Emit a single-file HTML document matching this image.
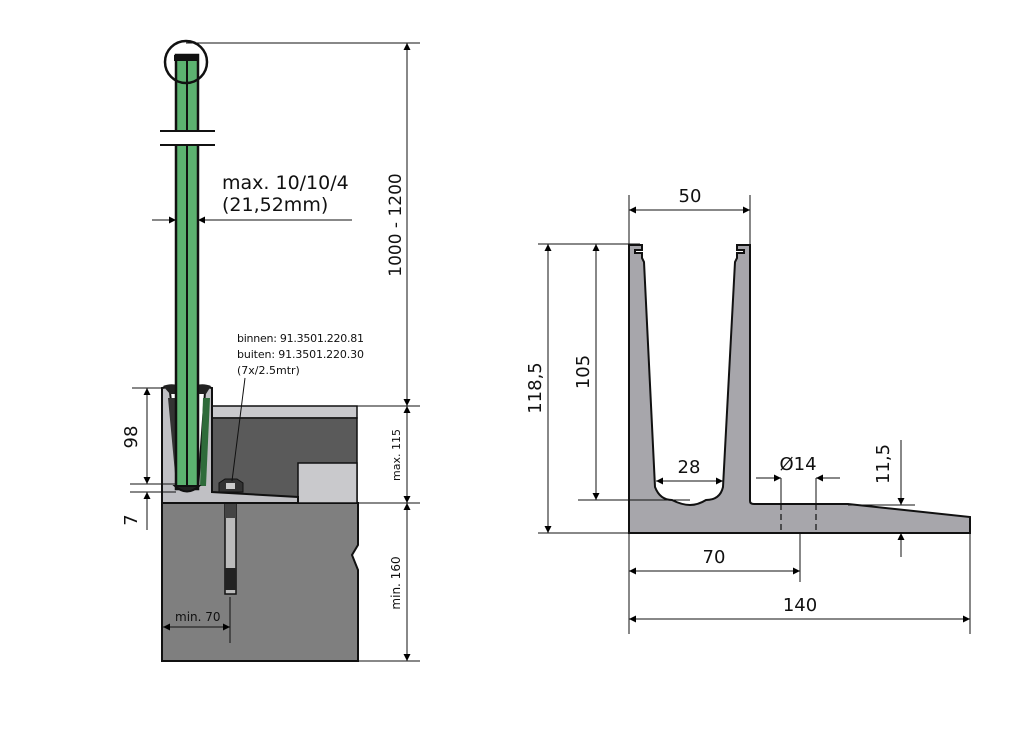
<!DOCTYPE html>
<html><head><meta charset="utf-8"><style>
html,body{margin:0;padding:0;background:#fff;}
svg{display:block;}
text{font-family:"DejaVu Sans","Liberation Sans",sans-serif;fill:#111;}
</style></head><body>
<svg width="1024" height="731" viewBox="0 0 1024 731" xmlns="http://www.w3.org/2000/svg">
<defs>
<marker id="a" viewBox="0 0 10 10" refX="10" refY="5" markerWidth="12" markerHeight="7" orient="auto-start-reverse" markerUnits="userSpaceOnUse"><path d="M0,0 L10,5 L0,10 z" fill="#000"/></marker>
</defs>

<!-- ===== LEFT DRAWING ===== -->
<path d="M162,503 L358,503 L358,545 L352,555 L358,570 L358,661 L162,661 Z" fill="#7f7f7f" stroke="#111" stroke-width="2"/>
<rect x="212" y="406" width="145" height="12" fill="#c9c9cc" stroke="#111" stroke-width="1.5"/>
<rect x="212" y="418" width="145" height="85" fill="#5a5a5a" stroke="#111" stroke-width="1.5"/>
<rect x="298" y="463" width="59" height="40" fill="#c9c9cc" stroke="#111" stroke-width="1.5"/>
<path d="M162,388 L176,386 L176,392 L170,392 L180,488 L198,488 L205,392 L200,392 L200,386 L212,388 L212,492 L298,497 L298,503 L162,503 Z" fill="#c0c0c4" stroke="#111" stroke-width="2"/>
<path d="M163,386 Q170,383 178,385 L178,394 L170,394 Z" fill="#222"/>
<path d="M196,385 Q204,383 211,386 L206,394 L196,394 Z" fill="#222"/>
<path d="M168,398 L175,398 L181,484 L176,484 Z" fill="#333"/>
<path d="M203,398 L210,398 L206,486 L200,486 Z" fill="#2e6b3a"/>
<rect x="225" y="504" width="11" height="90" fill="#bbb" stroke="#111" stroke-width="1.5"/>
<rect x="225" y="504" width="11" height="14" fill="#444"/>
<rect x="225" y="568" width="11" height="22" fill="#222"/>
<path d="M219,492 L219,483 L225,479 L237,479 L243,483 L243,492 Z" fill="#333" stroke="#111"/>
<rect x="226" y="483" width="9" height="6" fill="#ccc"/>
<rect x="176" y="55" width="22" height="434" fill="#5cb270" stroke="#111" stroke-width="2.5"/>
<line x1="187" y1="55" x2="187" y2="489" stroke="#111" stroke-width="2"/>
<rect x="170" y="131" width="50" height="14" fill="#fff"/>
<line x1="160" y1="131" x2="215" y2="131" stroke="#111" stroke-width="2"/>
<line x1="160" y1="145" x2="215" y2="145" stroke="#111" stroke-width="2"/>
<path d="M175,486 Q187,497 199,486 Z" fill="#222" stroke="#111" stroke-width="2"/>
<circle cx="186" cy="62" r="21" fill="none" stroke="#111" stroke-width="2.5"/>
<rect x="174" y="55" width="24" height="6" fill="#111"/>

<g stroke="#111" stroke-width="1" fill="none">
<line x1="186" y1="43" x2="420" y2="43"/>
<line x1="357" y1="406" x2="420" y2="406"/>
<line x1="357" y1="503" x2="420" y2="503"/>
<line x1="357" y1="661" x2="420" y2="661"/>
<line x1="407" y1="43" x2="407" y2="406" marker-start="url(#a)" marker-end="url(#a)"/>
<line x1="407" y1="406" x2="407" y2="503" marker-start="url(#a)" marker-end="url(#a)"/>
<line x1="407" y1="503" x2="407" y2="661" marker-start="url(#a)" marker-end="url(#a)"/>
<line x1="132" y1="388" x2="165" y2="388"/>
<line x1="130" y1="484" x2="176" y2="484"/>
<line x1="130" y1="492" x2="176" y2="492"/>
<line x1="147" y1="388" x2="147" y2="484" marker-start="url(#a)" marker-end="url(#a)"/>
<line x1="147" y1="530" x2="147" y2="492" marker-end="url(#a)"/>
<line x1="152" y1="220" x2="176" y2="220" marker-end="url(#a)"/>
<line x1="352" y1="220" x2="198" y2="220" marker-end="url(#a)"/>
<line x1="245" y1="378" x2="232" y2="481"/>
<line x1="230" y1="597" x2="230" y2="643"/>
<line x1="163" y1="627" x2="230" y2="627" marker-start="url(#a)" marker-end="url(#a)"/>
</g>
<text x="222" y="189" font-size="19">max. 10/10/4</text>
<text x="222" y="211" font-size="19">(21,52mm)</text>
<text x="237" y="342" font-size="11" textLength="127">binnen: 91.3501.220.81</text>
<text x="237" y="358" font-size="11" textLength="127">buiten: 91.3501.220.30</text>
<text x="237" y="374" font-size="11">(7x/2.5mtr)</text>
<text x="175" y="621" font-size="12">min. 70</text>
<text transform="translate(401,225) rotate(-90)" text-anchor="middle" font-size="17">1000 - 1200</text>
<text transform="translate(400,455) rotate(-90)" text-anchor="middle" font-size="11">max. 115</text>
<text transform="translate(400,583) rotate(-90)" text-anchor="middle" font-size="12">min. 160</text>
<text transform="translate(137,437) rotate(-90)" text-anchor="middle" font-size="18">98</text>
<text transform="translate(137,520) rotate(-90)" text-anchor="middle" font-size="18">7</text>

<!-- ===== RIGHT DRAWING ===== -->
<path d="M629,245 L642,245 L642,250 L635,250 L635,253 L642,253 L642,258 L644,262 L655,487 Q660,500 672,500 Q682,505 690,505 Q698,505 706,500 Q720,500 723,487 L735,262 L737,258 L737,253 L744,253 L744,250 L737,250 L737,245 L750,245 L750,501 Q750,504 754,504 L848,504 L970,517 L970,533 L629,533 Z" fill="#a7a6ab" stroke="#111" stroke-width="2"/>
<g stroke="#111" stroke-width="1.2" fill="none">
<line x1="781" y1="504" x2="781" y2="533" stroke-dasharray="6,4"/>
<line x1="816" y1="504" x2="816" y2="533" stroke-dasharray="6,4"/>
</g>
<g stroke="#111" stroke-width="1" fill="none">
<line x1="629" y1="195" x2="629" y2="244"/>
<line x1="750" y1="195" x2="750" y2="244"/>
<line x1="629" y1="210" x2="750" y2="210" marker-start="url(#a)" marker-end="url(#a)"/>
<line x1="538" y1="244" x2="640" y2="244"/>
<line x1="578" y1="500" x2="690" y2="500"/>
<line x1="538" y1="533" x2="629" y2="533"/>
<line x1="548" y1="244" x2="548" y2="533" marker-start="url(#a)" marker-end="url(#a)"/>
<line x1="596" y1="244" x2="596" y2="500" marker-start="url(#a)" marker-end="url(#a)"/>
<line x1="656" y1="481" x2="723" y2="481" marker-start="url(#a)" marker-end="url(#a)"/>
<line x1="756" y1="478" x2="781" y2="478" marker-end="url(#a)"/>
<line x1="840" y1="478" x2="816" y2="478" marker-end="url(#a)"/>
<line x1="781" y1="478" x2="781" y2="504"/>
<line x1="816" y1="478" x2="816" y2="504"/>
<line x1="848" y1="505" x2="915" y2="505"/>
<line x1="901" y1="440" x2="901" y2="505" marker-end="url(#a)"/>
<line x1="901" y1="557" x2="901" y2="533" marker-end="url(#a)"/>
<line x1="800" y1="533" x2="800" y2="582"/>
<line x1="629" y1="533" x2="629" y2="634"/>
<line x1="970" y1="518" x2="970" y2="634"/>
<line x1="629" y1="571" x2="800" y2="571" marker-start="url(#a)" marker-end="url(#a)"/>
<line x1="629" y1="619" x2="970" y2="619" marker-start="url(#a)" marker-end="url(#a)"/>
</g>
<text x="690" y="202" font-size="18" text-anchor="middle">50</text>
<text x="689" y="473" font-size="18" text-anchor="middle">28</text>
<text x="798" y="470" font-size="18" text-anchor="middle">Ø14</text>
<text x="714" y="563" font-size="18" text-anchor="middle">70</text>
<text x="800" y="611" font-size="18" text-anchor="middle">140</text>
<text transform="translate(541,388) rotate(-90)" text-anchor="middle" font-size="18">118,5</text>
<text transform="translate(589,372) rotate(-90)" text-anchor="middle" font-size="18">105</text>
<text transform="translate(889,464) rotate(-90)" text-anchor="middle" font-size="18">11,5</text>
</svg>
</body></html>
